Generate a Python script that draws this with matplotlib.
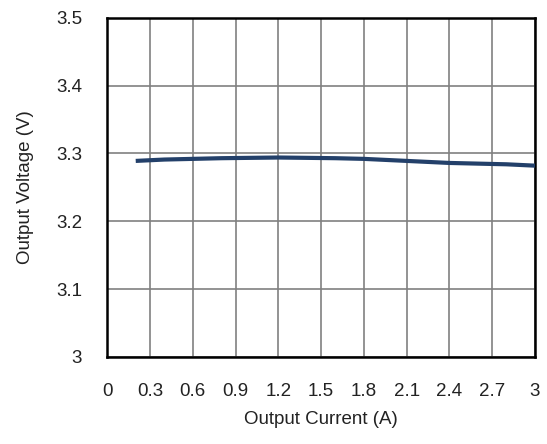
import numpy as np
import matplotlib
matplotlib.use('Agg')
import matplotlib.pyplot as plt

# output voltage vs load current
current = [0.2, 0.4, 0.6, 0.8, 1.0, 1.2, 1.4, 1.6, 1.8, 2.0, 2.2, 2.4, 2.6, 2.8, 3.0]
voltage = [3.289, 3.291, 3.292, 3.293, 3.2935, 3.294, 3.2935, 3.293, 3.292,
           3.290, 3.288, 3.286, 3.285, 3.284, 3.282]

xticks = [0, 0.3, 0.6, 0.9, 1.2, 1.5, 1.8, 2.1, 2.4, 2.7, 3.0]
xticklabels = ['0', '0.3', '0.6', '0.9', '1.2', '1.5', '1.8', '2.1', '2.4', '2.7', '3']
yticks = [3.0, 3.1, 3.2, 3.3, 3.4, 3.5]
yticklabels = ['3', '3.1', '3.2', '3.3', '3.4', '3.5']

plt.rcParams['font.family'] = ['Liberation Sans', 'DejaVu Sans']
fs = 13.5

fig = plt.figure(figsize=(5.47, 4.44), dpi=100)
ax = fig.add_axes([0.196, 0.196, 0.782, 0.764])

ax.plot(current, voltage, color='#23406a', lw=3.0, solid_capstyle='butt', zorder=3)

ax.set_xlim(0, 3)
ax.set_ylim(3.0, 3.5)
ax.set_xticks(xticks)
ax.set_xticklabels(xticklabels)
ax.set_yticks(yticks)
ax.set_yticklabels(yticklabels)
ax.tick_params(axis='x', length=0, pad=19, labelsize=fs, colors='#222222')
ax.tick_params(axis='y', length=0, pad=18, labelsize=fs, colors='#222222')
ax.grid(True, color='#808080', lw=1.2)
ax.set_axisbelow(True)
for s in ax.spines.values():
    s.set_linewidth(1.8)
    s.set_color('black')

ax.set_xlabel('Output Current (A)', fontsize=fs, color='#222222')
ax.set_ylabel('Output Voltage (V)', fontsize=fs, color='#222222')
ax.xaxis.set_label_coords(0.5, -0.158)
ax.yaxis.set_label_coords(-0.172, 0.5)

fig.savefig('out.png', dpi=100)
